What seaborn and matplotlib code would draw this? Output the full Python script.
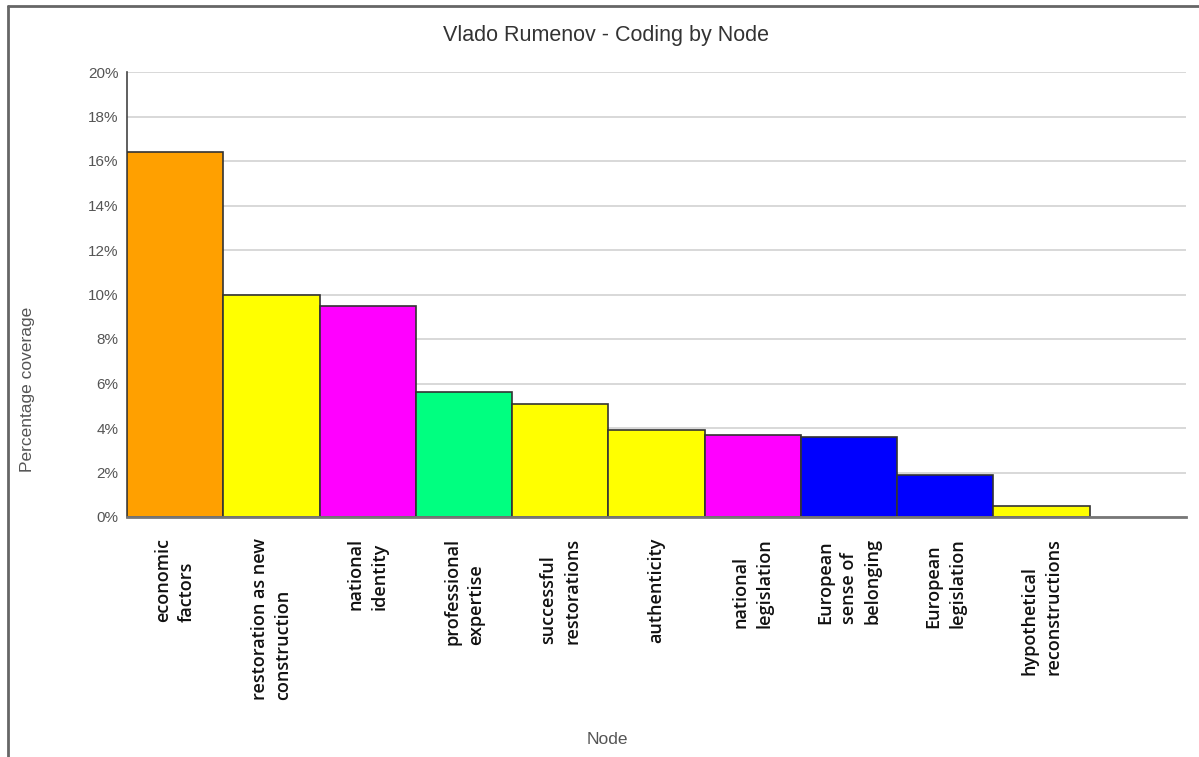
import matplotlib
matplotlib.use("Agg")
import matplotlib.pyplot as plt
from matplotlib.lines import Line2D
from matplotlib.ticker import FuncFormatter, MultipleLocator
import seaborn as sns
import pandas as pd

# Coding coverage per node
nodes = [
    "economic\nfactors",
    "restoration as new\nconstruction",
    "national\nidentity",
    "professional\nexpertise",
    "successful\nrestorations",
    "authenticity",
    "national\nlegislation",
    "European\nsense of\nbelonging",
    "European\nlegislation",
    "hypothetical\nreconstructions",
]
coverage = [16.4, 10.0, 9.5, 5.6, 5.1, 3.9, 3.7, 3.6, 1.9, 0.5]
bar_colors = ["#FFA000", "#FFFF00", "#FF00FF", "#00FF80", "#FFFF00",
              "#FFFF00", "#FF00FF", "#0000FF", "#0000FF", "#FFFF00"]

df = pd.DataFrame({"Node": nodes, "Coverage": coverage})

sns.set_theme(style="white")
plt.rcParams["font.family"] = ["Liberation Sans", "DejaVu Sans"]

fig = plt.figure(figsize=(11.99, 7.57), dpi=100)
W, H = 1199, 757
ax = fig.add_axes([127 / W, 1 - 517 / H, (1186 - 127) / W, (517 - 72) / H])

sns.barplot(data=df, x="Node", y="Coverage", hue="Node", palette=bar_colors,
            width=1.0, edgecolor="#333333", linewidth=1.2, legend=False,
            saturation=1, ax=ax, zorder=3)

ax.set_xlim(-0.5, 10.5)
ax.set_ylim(0, 20)
ax.yaxis.set_major_locator(MultipleLocator(2))
ax.yaxis.set_major_formatter(FuncFormatter(lambda v, p: f"{v:.0f}%"))
ax.grid(axis="y", color="#d6d6d6", linewidth=1.3, zorder=0)
ax.grid(axis="x", visible=False)

for side in ["top", "right"]:
    ax.spines[side].set_visible(False)
ax.spines["left"].set_color("#444444")
ax.spines["left"].set_linewidth(1.2)
ax.spines["bottom"].set_color("#777777")
ax.spines["bottom"].set_linewidth(2)
ax.spines["bottom"].set_zorder(4)

ax.tick_params(axis="y", length=0, pad=6, labelsize=11, labelcolor="#555555")
ax.tick_params(axis="x", length=0, pad=15)
for lab in ax.get_xticklabels():
    lab.set_rotation(90)
    lab.set_multialignment("left")
    lab.set_fontfamily(["Open Sans", "DejaVu Sans"])
    lab.set_fontweight("semibold")
    lab.set_fontsize(13)
    lab.set_color("#111111")
    lab.set_linespacing(1.4)

ax.set_xlabel("")
ax.set_ylabel("")

fig.text(606 / W, 1 - 36 / H, "Vlado Rumenov - Coding by Node", ha="center",
         va="center", fontsize=15.5, color="#333333")
fig.text(28 / W, 1 - 389 / H, "Percentage coverage", rotation=90, ha="center",
         va="center", fontsize=12.5, color="#555555")
fig.text(607 / W, 1 - 739 / H, "Node", ha="center", va="center",
         fontsize=12.5, color="#555555")

# Outer frame on the left and top edges
fig.add_artist(Line2D([8 / W, 8 / W], [0, 1 - 6 / H], transform=fig.transFigure,
                      color="#666666", linewidth=2))
fig.add_artist(Line2D([8 / W, 1], [1 - 6 / H, 1 - 6 / H], transform=fig.transFigure,
                      color="#666666", linewidth=2))

fig.savefig("out.png", dpi=100, facecolor="white")
